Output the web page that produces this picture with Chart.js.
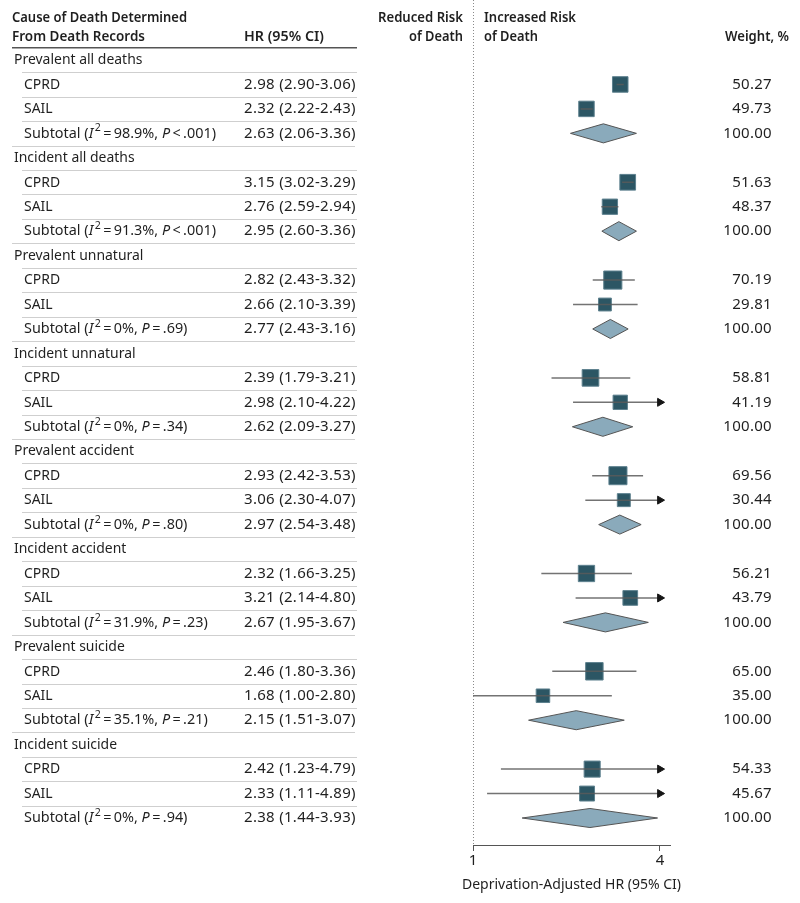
<!DOCTYPE html>
<html>
<head>
<meta charset="utf-8">
<script src="https://cdn.jsdelivr.net/npm/chart.js@4.4.1/dist/chart.umd.min.js"></script>
<style>
  html, body { margin: 0; padding: 0; background: #fff; }
  canvas { display: block; }
</style>
</head>
<body>
<canvas id="forest" width="800" height="903"></canvas>
<script>
// values
const groupNames = ['Prevalent all deaths', 'Incident all deaths', 'Prevalent unnatural', 'Incident unnatural',
  'Prevalent accident', 'Incident accident', 'Prevalent suicide', 'Incident suicide'];
const cprdHR = [2.98, 3.15, 2.82, 2.39, 2.93, 2.32, 2.46, 2.42];
const cprdLo = [2.90, 3.02, 2.43, 1.79, 2.42, 1.66, 1.80, 1.23];
const cprdHi = [3.06, 3.29, 3.32, 3.21, 3.53, 3.25, 3.36, 4.79];
const cprdWeight = [50.27, 51.63, 70.19, 58.81, 69.56, 56.21, 65.00, 54.33];
const sailHR = [2.32, 2.76, 2.66, 2.98, 3.06, 3.21, 1.68, 2.33];
const sailLo = [2.22, 2.59, 2.10, 2.10, 2.30, 2.14, 1.00, 1.11];
const sailHi = [2.43, 2.94, 3.39, 4.22, 4.07, 4.80, 2.80, 4.89];
const sailWeight = [49.73, 48.37, 29.81, 41.19, 30.44, 43.79, 35.00, 45.67];
const subHR = [2.63, 2.95, 2.77, 2.62, 2.97, 2.67, 2.15, 2.38];
const subLo = [2.06, 2.60, 2.43, 2.09, 2.54, 1.95, 1.51, 1.44];
const subHi = [3.36, 3.36, 3.16, 3.27, 3.48, 3.67, 3.07, 3.93];
const subI2 = ['98.9%', '91.3%', '0%', '0%', '0%', '31.9%', '35.1%', '0%'];
const subP = ['<.001', '<.001', '=.69', '=.34', '=.80', '=.23', '=.21', '=.94'];
const xTicks = [1, 4];
const xTitle = 'Deprivation-Adjusted HR (95% CI)';

const FONT = '"Noto Sans", "Open Sans", sans-serif';
const TEXT = '#1f1f1f';
const X_CLIP = 4;           // CIs past this get an arrow
const rowOf = (g, k) => g * 4 + k;
const boxSide = w => 9 + 0.13 * w;

const studies = [
  { name: 'CPRD', hr: cprdHR, lo: cprdLo, hi: cprdHi, w: cprdWeight },
  { name: 'SAIL', hr: sailHR, lo: sailLo, hi: sailHi, w: sailWeight }
];

const ciData = [];
const arrowData = [];
const boxData = [];
groupNames.forEach((name, g) => {
  studies.forEach((s, k) => {
    const y = rowOf(g, k + 1);
    ciData.push({ x: s.lo[g], y }, { x: Math.min(s.hi[g], X_CLIP), y }, { x: null, y: null });
    if (s.hi[g] > X_CLIP) arrowData.push({ x: X_CLIP, y });
    boxData.push({ x: s.hr[g], y, w: s.w[g] });
  });
});

const diamondSets = groupNames.map((name, g) => {
  const y = rowOf(g, 3);
  return {
    type: 'scatter',
    data: [
      { x: subLo[g], y }, { x: subHR[g], y: y - 0.39 }, { x: subHi[g], y },
      { x: subHR[g], y: y + 0.39 }, { x: subLo[g], y }
    ],
    showLine: true,
    fill: 'shape',
    backgroundColor: '#8aaabb',
    borderColor: '#555',
    borderWidth: 1,
    pointRadius: 0,
    order: 3
  };
});

// text squeezed horizontally a little, the source face is narrow
function label(c, t, x, y, align, sx) {
  c.save();
  c.translate(x, y);
  c.scale(sx, 1);
  c.textAlign = align;
  c.fillText(t, 0, 0);
  c.restore();
}

function drawSubtotal(c, x, y, i2, p) {
  const sx = 0.96;
  const parts = [
    { t: 'Subtotal (' },
    { t: 'I', it: true },
    { t: '2', sup: true },
    { t: '\u2009=\u2009' + i2 + ', ' },
    { t: 'P', it: true },
    { t: '\u2009' + p.charAt(0) + '\u2009' + p.slice(1) + ')' }
  ];
  parts.forEach(pt => {
    c.font = pt.sup ? `11px ${FONT}` : `${pt.it ? 'italic ' : ''}15px ${FONT}`;
    const dx = pt.sup ? 1.5 : 0;
    label(c, pt.t, x + dx, pt.sup ? y - 5 : y, 'left', sx);
    x += (c.measureText(pt.t).width + dx) * sx;
  });
  c.font = `15px ${FONT}`;
}

// draws the table text, header and separators around the plot
const tablePlugin = {
  id: 'table',
  beforeDraw(chart) {
    const c = chart.ctx;
    c.save();
    c.fillStyle = '#fff';
    c.fillRect(0, 0, chart.width, chart.height);
    c.restore();
  },
  afterDraw(chart) {
    const c = chart.ctx;
    const ys = chart.scales.y;
    const xs = chart.scales.x;
    const py = r => ys.getPixelForValue(r);
    c.save();

    // dotted reference line at HR = 1
    const x1 = Math.round(xs.getPixelForValue(1));
    c.strokeStyle = '#8a8a8a';
    c.lineWidth = 1;
    c.setLineDash([1, 2]);
    c.beginPath();
    c.moveTo(x1 + 0.5, 0);
    c.lineTo(x1 + 0.5, chart.chartArea.bottom);
    c.stroke();
    c.setLineDash([]);

    // separators
    c.strokeStyle = '#555';
    c.lineWidth = 1.5;
    c.beginPath();
    c.moveTo(12, py(-0.5));
    c.lineTo(357, py(-0.5));
    c.stroke();
    c.strokeStyle = '#cfcfcf';
    c.lineWidth = 1;
    const nRows = groupNames.length * 4;
    for (let r = 0; r < nRows - 1; r++) {
      const y = Math.round(py(r + 0.5)) + 0.5;
      c.beginPath();
      if (r % 4 === 3) { c.moveTo(12, y); c.lineTo(355, y); }
      else { c.moveTo(22, y); c.lineTo(357, y); }
      c.stroke();
    }

    // headers
    c.textBaseline = 'middle';
    c.fillStyle = TEXT;
    c.font = `600 15px ${FONT}`;
    const h1 = py(-1.72), h2 = py(-0.94);
    c.textAlign = 'left';
    c.fillText('Cause of Death Determined', 12, h1, 175);
    c.fillText('From Death Records', 12, h2, 133);
    c.fillText('HR (95% CI)', 244, h2, 80);
    c.fillText('Increased Risk', 484, h1, 92);
    c.fillText('of Death', 484, h2, 54);
    c.textAlign = 'right';
    c.fillText('Reduced Risk', 463, h1, 85);
    c.fillText('of Death', 463, h2, 54);
    c.fillText('Weight, %', 789, h2, 64);

    // axis title, wider than the axis itself
    c.font = `14px ${FONT}`;
    c.textAlign = 'center';
    c.fillText(xTitle, (xs.left + xs.right) / 2, xs.bottom - 18);

    // rows
    c.font = `15px ${FONT}`;
    const hrText = (hr, lo, hi) => `${hr.toFixed(2)} (${lo.toFixed(2)}-${hi.toFixed(2)})`;
    const num = (t, x, y, align) => {
      c.letterSpacing = '0.3px';
      label(c, t, x, y, align, 1);
      c.letterSpacing = '0px';
    };
    groupNames.forEach((name, g) => {
      label(c, name, 14, py(rowOf(g, 0)), 'left', 0.93);
      studies.forEach((s, k) => {
        const y = py(rowOf(g, k + 1));
        label(c, s.name, 24, y, 'left', 0.93);
        num(hrText(s.hr[g], s.lo[g], s.hi[g]), 244, y, 'left');
        num(s.w[g].toFixed(2), 772, y, 'right');
      });
      const y = py(rowOf(g, 3));
      drawSubtotal(c, 24, y, subI2[g], subP[g]);
      num(hrText(subHR[g], subLo[g], subHi[g]), 244, y, 'left');
      num('100.00', 772, y, 'right');
    });
    c.restore();
  }
};

new Chart(document.getElementById('forest'), {
  data: {
    datasets: [
      {
        type: 'scatter',
        data: ciData,
        showLine: true,
        spanGaps: false,
        borderColor: 'rgba(90,90,90,0.85)',
        borderWidth: 1.5,
        pointRadius: 0,
        order: 1
      },
      {
        type: 'scatter',
        data: arrowData,
        pointStyle: 'triangle',
        rotation: 90,
        pointRadius: 4.6,
        backgroundColor: '#151515',
        borderColor: '#151515',
        borderWidth: 1,
        order: 0
      },
      {
        type: 'scatter',
        data: boxData,
        pointStyle: 'rect',
        pointRadius: ctx => boxSide(ctx.raw.w) / Math.SQRT2,
        backgroundColor: '#2c5664',
        borderColor: '#5d808e',
        borderWidth: 1,
        order: 2
      },
      ...diamondSets
    ]
  },
  options: {
    responsive: false,
    devicePixelRatio: 1,
    animation: false,
    layout: { autoPadding: false, padding: { left: 473, right: 130, top: 0, bottom: 0 } },
    plugins: { legend: { display: false }, tooltip: { enabled: false } },
    scales: {
      x: {
        type: 'logarithmic',
        min: 1,
        max: 4.31,
        afterBuildTicks: s => { s.ticks = xTicks.map(v => ({ value: v })); },
        afterFit: s => { s.height = 58; },
        grid: { drawOnChartArea: false, drawTicks: true, tickLength: 6, color: '#555' },
        border: { display: true, color: '#555', width: 1 },
        ticks: {
          padding: 1,
          color: TEXT,
          font: { family: FONT, size: 15 },
          callback: v => String(v),
          maxRotation: 0
        }
      },
      y: {
        type: 'linear',
        display: false,
        reverse: true,
        min: -2.454,
        max: 32.104
      }
    }
  },
  plugins: [tablePlugin]
});
</script>
</body>
</html>
